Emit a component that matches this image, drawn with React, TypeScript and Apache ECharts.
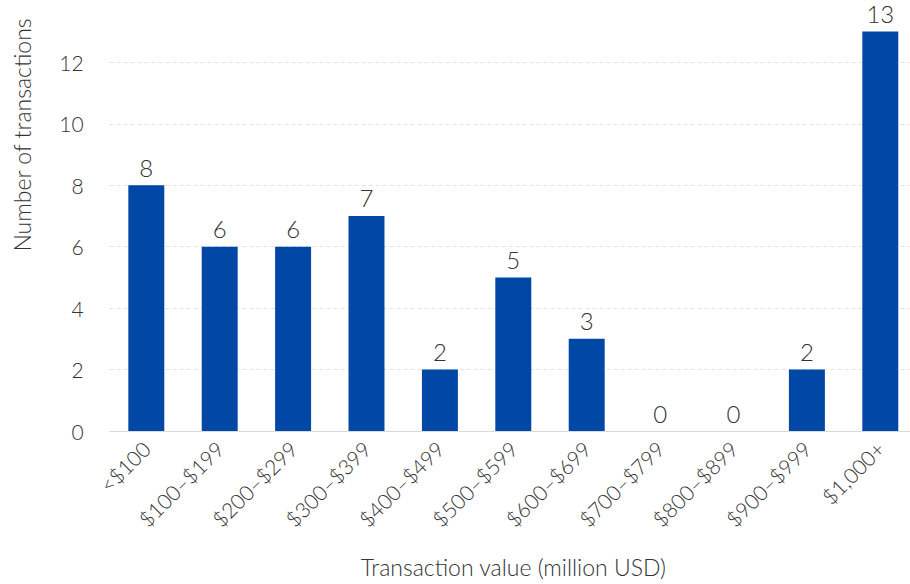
import React, { useEffect, useRef } from "react";
import * as echarts from "echarts";

const categories = [
  "<$100",
  "$100–$199",
  "$200–$299",
  "$300–$399",
  "$400–$499",
  "$500–$599",
  "$600–$699",
  "$700–$799",
  "$800–$899",
  "$900–$999",
  "$1,000+",
];
const counts = [8, 6, 6, 7, 2, 5, 3, 0, 0, 2, 13];
const yTitle = "Number of transactions";
const xTitle = "Transaction value (million USD)";

const FONT = "Lato, 'Open Sans', sans-serif";
const TEXT = "#333333";

export default function App() {
  const ref = useRef<HTMLDivElement>(null);
  useEffect(() => {
    if (!ref.current) return;
    const chart = echarts.init(ref.current, undefined, { renderer: "svg" });
    chart.setOption({
      animation: false,
      textStyle: { fontFamily: FONT, fontWeight: 300 },
      grid: { left: 109.6, right: 0, top: 31.6, bottom: 153, containLabel: false },
      graphic: [
        {
          type: "text",
          x: 22,
          y: 135,
          rotation: Math.PI / 2,
          style: {
            text: yTitle,
            fontFamily: FONT,
            fontWeight: 300,
            fontSize: 23,
            fill: TEXT,
            align: "center",
            verticalAlign: "middle",
          },
        },
      ],
      xAxis: {
        type: "category",
        data: categories,
        name: xTitle,
        nameLocation: "middle",
        nameGap: 124,
        nameTextStyle: { fontFamily: FONT, fontWeight: 300, fontSize: 23, color: TEXT },
        axisLine: { lineStyle: { color: "#d9d9d9", width: 1 } },
        axisTick: { show: false },
        axisLabel: {
          rotate: 45,
          interval: 0,
          margin: 14,
          fontFamily: FONT,
          fontWeight: 300,
          fontSize: 21,
          color: TEXT,
        },
      },
      yAxis: {
        type: "value",
        min: 0,
        max: 13,
        interval: 2,
        axisLine: { show: false },
        axisTick: { show: false },
        axisLabel: {
          margin: 26,
          fontFamily: FONT,
          fontWeight: 300,
          fontSize: 21,
          color: TEXT,
          showMaxLabel: false,
          formatter: (v: number) => (v === 13 ? "" : String(v)),
        },
        splitLine: {
          show: true,
          showMaxLine: false,
          lineStyle: { color: "#e3e3e3", type: [4, 3], width: 1 },
        },
      },
      series: [
        {
          type: "bar",
          data: counts,
          barWidth: "49%",
          itemStyle: { color: "#0047A6" },
          label: {
            show: true,
            position: "top",
            distance: 6,
            fontFamily: FONT,
            fontWeight: 300,
            fontSize: 24,
            color: TEXT,
          },
        },
      ],
    });
    return () => chart.dispose();
  }, []);
  return (
    <div
      style={{ position: "absolute", left: 0, top: 0, width: 910, height: 584, overflow: "hidden", background: "#fff" }}
    >
      <div ref={ref} style={{ position: "absolute", left: 0, top: 0, width: 917, height: 584 }} />
    </div>
  );
}
